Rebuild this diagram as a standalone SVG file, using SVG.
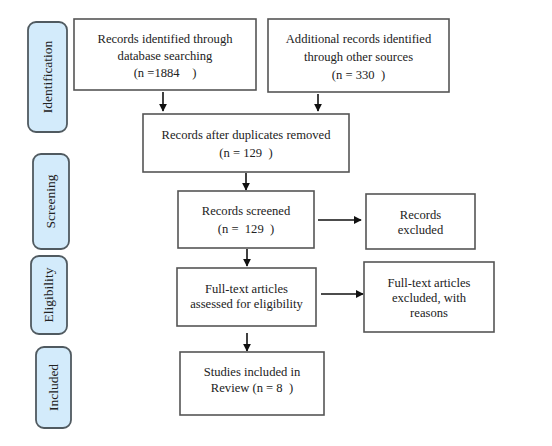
<svg xmlns="http://www.w3.org/2000/svg" width="552" height="446" viewBox="0 0 552 446">
<defs>
<style>
.box{fill:#fff;stroke:#555;stroke-width:1.6}
.pill{fill:#d3ebfb;stroke:#505a60;stroke-width:1.8}
.t{font-family:"Liberation Serif","Times New Roman",serif;font-size:12.6px;fill:#222;text-anchor:middle}
.pt{font-family:"Liberation Serif","Times New Roman",serif;font-size:13.5px;fill:#222;text-anchor:middle}
.c{stroke:#111;stroke-width:1.6;fill:none;marker-end:url(#ah)}
</style>
<marker id="ah" viewBox="0 0 10 10" refX="9" refY="5" markerWidth="5" markerHeight="5" orient="auto" markerUnits="strokeWidth"><path d="M0,0L10,5L0,10z" fill="#111"/></marker>
</defs>
<rect width="552" height="446" fill="#fff"/>
<g id="stage-identification"><rect class="pill" x="28" y="22" width="39" height="110" rx="8"/><text class="pt" transform="translate(52,77) rotate(-90)">Identification</text></g>
<g id="stage-screening"><rect class="pill" x="33" y="154" width="36" height="95" rx="8"/><text class="pt" transform="translate(55,201.5) rotate(-90)">Screening</text></g>
<g id="stage-eligibility"><rect class="pill" x="31" y="256" width="36" height="78" rx="8"/><text class="pt" transform="translate(53,295) rotate(-90)">Eligibility</text></g>
<g id="stage-included"><rect class="pill" x="36" y="347" width="35" height="81" rx="8"/><text class="pt" transform="translate(58,387.5) rotate(-90)">Included</text></g>
<g id="connectors">
<line class="c" x1="163" y1="92" x2="163" y2="111"/>
<line class="c" x1="318" y1="94" x2="318" y2="111"/>
<line class="c" x1="246" y1="173" x2="246" y2="190"/>
<line class="c" x1="318" y1="220" x2="361" y2="220"/>
<line class="c" x1="247" y1="249" x2="247" y2="266"/>
<line class="c" x1="321" y1="294" x2="363" y2="294"/>
<line class="c" x1="247" y1="333" x2="247" y2="351"/>
</g>
<g id="n-db"><rect class="box" x="74" y="19" width="182" height="71"/><text class="t" x="165" y="43">Records identified through</text><text class="t" x="165" y="60">database searching</text><text class="t" x="165" y="77">(n =1884&#160;&#160;&#160;&#160;)</text></g>
<g id="n-other"><rect class="box" x="268" y="19" width="181" height="73"/><text class="t" x="358.5" y="43">Additional records identified</text><text class="t" x="358.5" y="61">through other sources</text><text class="t" x="358.5" y="79">(n = 330&#160;&#160;)</text></g>
<g id="n-dup"><rect class="box" x="143" y="114" width="206" height="58"/><text class="t" x="246" y="139">Records after duplicates removed</text><text class="t" x="246" y="157">(n = 129&#160;&#160;)</text></g>
<g id="n-screened"><rect class="box" x="178" y="191" width="136" height="57"/><text class="t" x="246" y="215">Records screened</text><text class="t" x="246" y="233">(n =&#160; 129&#160;&#160;)</text></g>
<g id="n-excluded"><rect class="box" x="366" y="194" width="109" height="55"/><text class="t" x="420.5" y="219">Records</text><text class="t" x="420.5" y="234">excluded</text></g>
<g id="n-fulltext"><rect class="box" x="177" y="268" width="139" height="58"/><text class="t" x="246.5" y="293">Full-text articles</text><text class="t" x="246.5" y="308">assessed for eligibility</text></g>
<g id="n-fulltext-excl"><rect class="box" x="364" y="262" width="130" height="70"/><text class="t" x="429" y="287">Full-text articles</text><text class="t" x="429" y="302">excluded, with</text><text class="t" x="429" y="317">reasons</text></g>
<g id="n-included"><rect class="box" x="180" y="352" width="144" height="63"/><text class="t" x="252" y="376">Studies included in</text><text class="t" x="252" y="392">Review (n = 8&#160;&#160;)</text></g>
</svg>
